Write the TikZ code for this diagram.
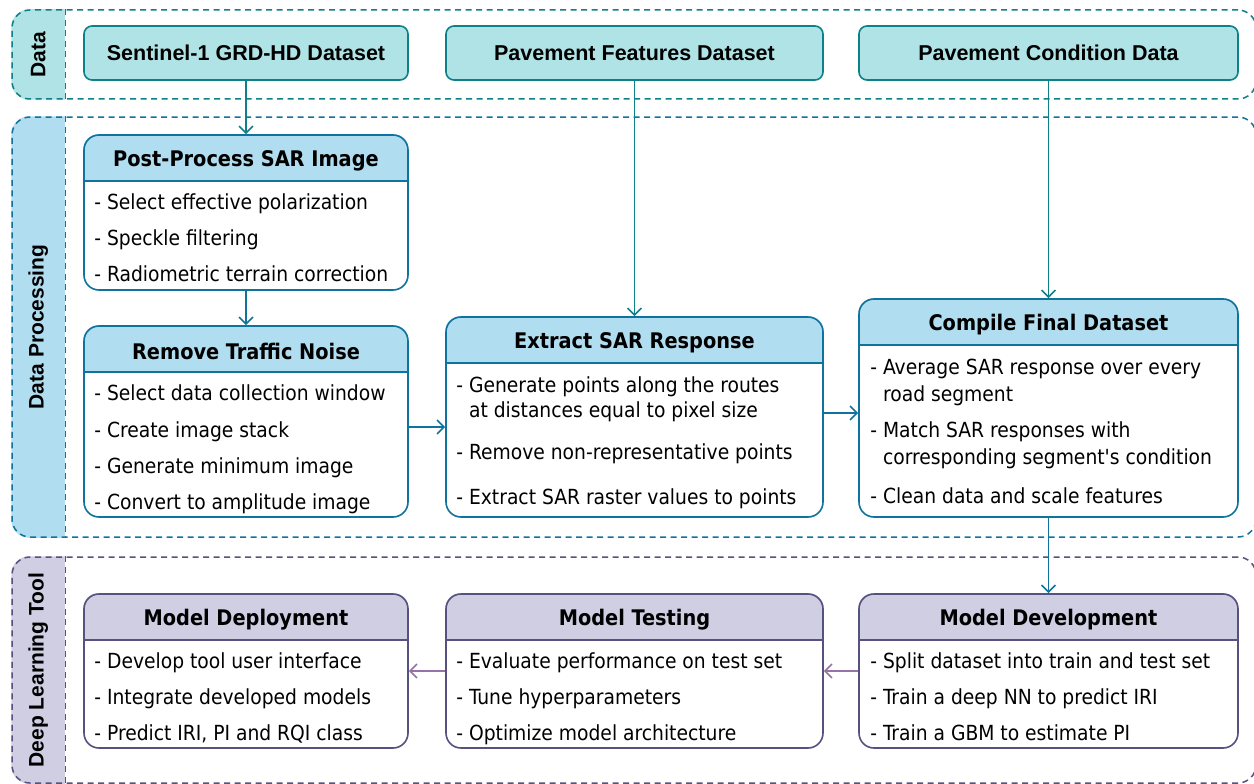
\documentclass[tikz,border=0pt]{standalone}
\usepackage{fontspec}
\setmainfont{DejaVu Sans Condensed}
\newfontfamily\arialfont{Liberation Sans}
\usepackage{tikz}
\usetikzlibrary{arrows.meta, backgrounds}

\definecolor{tealFill}{HTML}{B0E3E6}
\definecolor{tealLine}{HTML}{0E8088}
\definecolor{blueFill}{HTML}{B1DDF0}
\definecolor{blueLine}{HTML}{10739E}
\definecolor{purpFill}{HTML}{D0CEE2}
\definecolor{purpLine}{HTML}{56517E}
\definecolor{purpArrow}{HTML}{9673A6}

\begin{document}
\begin{tikzpicture}[x=1pt, y=-1pt]
% Styles
\tikzstyle{lane} = [rectangle, rounded corners=18pt, dash pattern=on 6pt off 4.5pt, line width=1.5pt, inner sep=0pt]
\tikzstyle{lanelabel} = [rotate=90, font=\arialfont\bfseries\fontsize{21}{21}\selectfont]
\tikzstyle{source} = [rectangle, rounded corners=8pt, minimum width=324pt, minimum height=54pt, inner sep=0pt, draw=tealLine, fill=tealFill, line width=1.6pt, font=\arialfont\bfseries\fontsize{21.5}{21.5}\selectfont]
\tikzstyle{stage} = [rectangle, rounded corners=15pt, minimum width=324pt, line width=1.6pt, inner sep=0pt]
\tikzstyle{stagetitle} = [font=\bfseries\fontsize{21.5}{21.5}\selectfont]
\tikzstyle{stagelist} = [anchor=north west, inner sep=0pt, align=left, font=\fontsize{20.8}{36}\selectfont]
\tikzstyle{arrow} = [line width=1.6pt, -{Straight Barb[length=7pt, width=14pt]}]

\path[use as bounding box] (0,0) rectangle (1254,784);
\begin{scope}[on background layer]
\fill[white] (0,0) rectangle (1254,784);
\end{scope}

% Lanes
\node (dataLane) [lane, draw=tealLine, minimum width=1244pt, minimum height=89pt] at (634,54.5) {};
\node (procLane) [lane, draw=blueLine, minimum width=1244pt, minimum height=420pt] at (634,327) {};
\node (toolLane) [lane, draw=purpLine, minimum width=1244pt, minimum height=226pt] at (634,670) {};
\begin{scope}[on background layer]
\foreach \l/\c in {dataLane/tealFill, procLane/blueFill, toolLane/purpFill}{
  \begin{scope}
    \clip[rounded corners=18pt] (\l.north west) rectangle (\l.south east);
    \fill[\c] (\l.north west) rectangle ([xshift=54pt]\l.south west);
  \end{scope}
}
\end{scope}
\draw[lane, draw=tealLine] ([xshift=54pt]dataLane.north west) -- ([xshift=54pt]dataLane.south west);
\draw[lane, draw=blueLine] ([xshift=54pt]procLane.north west) -- ([xshift=54pt]procLane.south west);
\draw[lane, draw=purpLine] ([xshift=54pt]toolLane.north west) -- ([xshift=54pt]toolLane.south west);
\node (dataLabel) [lanelabel] at ([xshift=27pt]dataLane.west) {Data};
\node (procLabel) [lanelabel] at ([xshift=27pt]procLane.west) {Data Processing};
\node (toolLabel) [lanelabel] at ([xshift=27pt]toolLane.west) {Deep Learning Tool};

% Data sources
\node (sen) [source] at (246,53) {Sentinel-1 GRD-HD Dataset};
\node (pfd) [source, minimum width=377pt] at (634.5,53) {Pavement Features Dataset};
\node (pcd) [source, minimum width=379pt] at (1048.5,53) {Pavement Condition Data};

% Stages
\node (pp) [stage, draw=blueLine, minimum height=155pt] at (246,212.5) {};
\node (rtn) [stage, draw=blueLine, minimum height=191pt] at (246,421.5) {};
\node (ext) [stage, draw=blueLine, minimum width=377pt, minimum height=200pt] at (634.5,417) {};
\node (cfd) [stage, draw=blueLine, minimum width=379pt, minimum height=218pt] at (1048.5,408) {};
\node (mdep) [stage, draw=purpLine, minimum height=154pt] at (246,671) {};
\node (mtest) [stage, draw=purpLine, minimum width=377pt, minimum height=154pt] at (634.5,671) {};
\node (mdev) [stage, draw=purpLine, minimum width=379pt, minimum height=154pt] at (1048.5,671) {};

% Stage headers
\begin{scope}[on background layer]
\foreach \b/\c in {pp/blueFill, rtn/blueFill, ext/blueFill, cfd/blueFill, mdep/purpFill, mtest/purpFill, mdev/purpFill}{
  \begin{scope}
    \clip[rounded corners=15pt] (\b.north west) rectangle (\b.south east);
    \fill[white] (\b.north west) rectangle (\b.south east);
    \fill[\c] (\b.north west) rectangle ([yshift=-47pt]\b.north east);
  \end{scope}
}
\end{scope}
\foreach \b/\c in {pp/blueLine, rtn/blueLine, ext/blueLine, cfd/blueLine, mdep/purpLine, mtest/purpLine, mdev/purpLine}
  \draw[\c, line width=1.6pt] ([yshift=-47pt]\b.north west) -- ([yshift=-47pt]\b.north east);

\node (ppTitle) [stagetitle] at ([yshift=-26.5pt]pp.north) {Post-Process SAR Image};
\node (rtnTitle) [stagetitle] at ([yshift=-26.5pt]rtn.north) {Remove Traffic Noise};
\node (extTitle) [stagetitle] at ([yshift=-26.5pt]ext.north) {Extract SAR Response};
\node (cfdTitle) [stagetitle] at ([yshift=-26.5pt]cfd.north) {Compile Final Dataset};
\node (mdepTitle) [stagetitle] at ([yshift=-26.5pt]mdep.north) {Model Deployment};
\node (mtestTitle) [stagetitle] at ([yshift=-26.5pt]mtest.north) {Model Testing};
\node (mdevTitle) [stagetitle] at ([yshift=-26.5pt]mdev.north) {Model Development};

\node (ppList) [stagelist] at ([xshift=11pt, yshift=-59.5pt]pp.north west) {- Select effective polarization\\- Speckle filtering\\- Radiometric terrain correction};
\node (rtnList) [stagelist, font=\fontsize{20.8}{36.3}\selectfont] at ([xshift=11pt, yshift=-59.5pt]rtn.north west) {- Select data collection window\\- Create image stack\\- Generate minimum image\\- Convert to amplitude image};
\node (extList) [stagelist, font=\fontsize{20.8}{25}\selectfont] at ([xshift=11pt, yshift=-60.5pt]ext.north west) {- Generate points along the routes\\\hphantom{- }at distances equal to pixel size\\[17pt]- Remove non-representative points\\[20pt]- Extract SAR raster values to points};
\node (cfdList) [stagelist, font=\fontsize{20.8}{27}\selectfont] at ([xshift=12pt, yshift=-61pt]cfd.north west) {- Average SAR response over every\\\hphantom{- }road segment\\[9pt]- Match SAR responses with\\\hphantom{- }corresponding segment\textquotesingle s condition\\[12pt]- Clean data and scale features};
\node (mdepList) [stagelist] at ([xshift=11pt, yshift=-59.5pt]mdep.north west) {- Develop tool user interface\\- Integrate developed models\\- Predict IRI, PI and RQI class};
\node (mtestList) [stagelist] at ([xshift=11pt, yshift=-59.5pt]mtest.north west) {- Evaluate performance on test set\\- Tune hyperparameters\\- Optimize model architecture};
\node (mdevList) [stagelist] at ([xshift=12pt, yshift=-59.5pt]mdev.north west) {- Split dataset into train and test set\\- Train a deep NN to predict IRI\\- Train a GBM to estimate PI};

% Arrows
\draw [arrow, tealLine] (sen) -- (pp);
\draw [arrow, tealLine] (pfd) -- (ext);
\draw [arrow, tealLine] (pcd) -- (cfd);
\draw [arrow, blueLine] (pp) -- (rtn);
\draw [arrow, blueLine] ([yshift=-5.5pt]rtn.east) -- ([yshift=-5.5pt]rtn.east -| ext.west);
\draw [arrow, blueLine] ([yshift=4pt]ext.east) -- ([yshift=4pt]ext.east -| cfd.west);
\draw [arrow, blueLine] (cfd) -- (mdev);
\draw [arrow, purpArrow] (mdev) -- (mtest);
\draw [arrow, purpArrow] (mtest) -- (mdep);
\end{tikzpicture}
\end{document}
